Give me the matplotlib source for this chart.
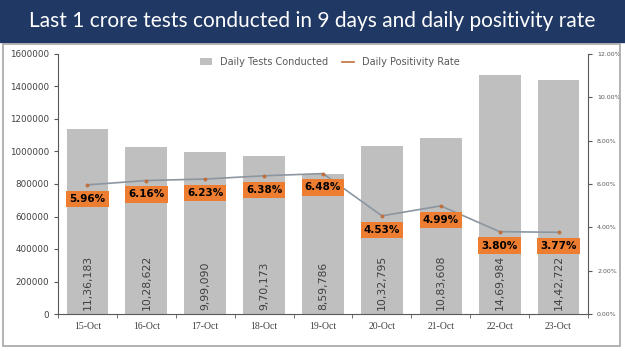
import matplotlib
matplotlib.use("Agg")
import matplotlib.pyplot as plt
from matplotlib.patches import Rectangle
from matplotlib.ticker import FuncFormatter

dates = ['15-Oct', '16-Oct', '17-Oct', '18-Oct', '19-Oct', '20-Oct', '21-Oct', '22-Oct', '23-Oct']
tests = [1136183, 1028622, 999090, 970173, 859786, 1032795, 1083608, 1469984, 1442722]
positivity = [5.96, 6.16, 6.23, 6.38, 6.48, 4.53, 4.99, 3.80, 3.77]


def indian(n):
    # 11,36,183 style grouping
    s = str(n)
    last3, rest = s[-3:], s[:-3]
    groups = []
    while len(rest) > 2:
        groups.insert(0, rest[-2:])
        rest = rest[:-2]
    if rest:
        groups.insert(0, rest)
    return ','.join(groups + [last3])


fig = plt.figure(figsize=(6.25, 3.51), dpi=100)

# title banner and chart frame
fig.patches.append(Rectangle((0, 1 - 42/351), 1, 42/351, transform=fig.transFigure,
                             color='#1F3864', zorder=0))
fig.patches.append(Rectangle((3/625, 1 - 346/351), 617/625, 302/351, transform=fig.transFigure,
                             fill=False, edgecolor='#A6A6A6', lw=1.2, zorder=0))
fig.text(0.5, 1 - 21/351, 'Last 1 crore tests conducted in 9 days and daily positivity rate',
         color='white', fontsize=15, family='Lato', ha='center', va='center')

ax = fig.add_axes([58/625, 1 - 314/351, 530/625, 260/351])
x = range(len(dates))
bars = ax.bar(x, tests, width=0.71, color='#BFBFBF', label='Daily Tests Conducted', zorder=1)
ax.set_ylim(0, 1600000)
ax.set_xlim(-0.5, len(dates) - 0.5)
ax.set_yticks(range(0, 1600001, 200000))
ax.yaxis.set_major_formatter(FuncFormatter(lambda v, p: '%d' % v))
ax.tick_params(axis='y', labelsize=6.3, length=3, color='#595959', labelcolor='#404040')
ax.set_xticks(list(x))
ax.set_xticklabels(dates, fontsize=7, family='Liberation Serif', color='#404040')
ax.set_xticks([i + 0.5 for i in range(-1, len(dates))], minor=True)
ax.tick_params(axis='x', which='major', length=0, pad=6)
ax.tick_params(axis='x', which='minor', length=3, color='#595959')
for s in ['top', 'right']:
    ax.spines[s].set_visible(False)
ax.spines['left'].set_color('#595959')
ax.spines['bottom'].set_color('#595959')

for i, v in enumerate(tests):
    ax.annotate(indian(v), (i, 0), xytext=(0, 3), textcoords='offset points',
                rotation=90, ha='center', va='bottom', fontsize=7.8, color='#404040')

ax2 = ax.twinx()
ax2.set_ylim(0, 12)
ax2.set_yticks(range(0, 13, 2))
ax2.yaxis.set_major_formatter(FuncFormatter(lambda v, p: '%.2f%%' % v))
ax2.tick_params(axis='y', labelsize=4.5, length=3, color='#595959', labelcolor='#595959')
for s in ['top', 'left', 'bottom']:
    ax2.spines[s].set_visible(False)
ax2.spines['right'].set_color('#595959')
line, = ax2.plot(list(x), positivity, color='#8C96A0', lw=1.2, marker='o', markersize=1.8,
                 markerfacecolor='#C0703A', markeredgecolor='#C0703A', label='Daily Positivity Rate',
                 zorder=3)
for i, v in enumerate(positivity):
    ax2.annotate('%.2f%%' % v, (i, v), xytext=(0, -10), textcoords='offset points',
                 ha='center', va='center', fontsize=7.5, fontweight='bold', color='black',
                 bbox=dict(boxstyle='square,pad=0.3', fc='#ED7D31', ec='none'), zorder=4)

leg_line = plt.Line2D([], [], color='#C0703A', lw=1.2)
fig.legend([bars, leg_line], ['Daily Tests Conducted', 'Daily Positivity Rate'],
           loc='center', bbox_to_anchor=(330/625, 1 - 62/351), ncol=2, frameon=False,
           fontsize=7, handlelength=1.2, handleheight=0.7, columnspacing=1.5,
           labelcolor='#595959')

fig.savefig('out.png', dpi=100)
